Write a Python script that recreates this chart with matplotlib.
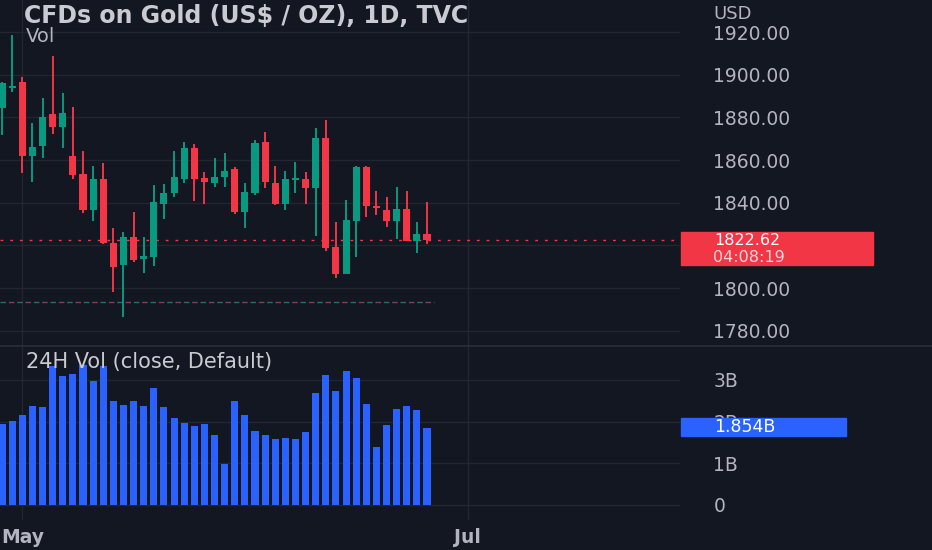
import numpy as np
import pandas as pd
import matplotlib
matplotlib.use("Agg")
import matplotlib.pyplot as plt
from matplotlib.patches import Rectangle

# daily candles (US$ / oz)
opens = [1884.4, 1893.8, 1896.6, 1861.9, 1866.6, 1881.6, 1875.5, 1861.9, 1853.5, 1836.6,
         1851.1, 1821.2, 1810.9, 1824.0, 1813.7, 1814.6, 1839.4, 1844.6, 1851.1, 1865.7,
         1851.6, 1849.3, 1852.1, 1855.8, 1835.7, 1844.6, 1868.5, 1849.3, 1839.4, 1850.7,
         1851.1, 1846.9, 1870.4, 1819.3, 1806.7, 1831.5, 1856.8, 1838.5, 1836.6, 1831.5,
         1837.1, 1822.1, 1825.4]
highs = [1896.5, 1918.6, 1898.9, 1877.4, 1889.1, 1908.8, 1891.4, 1884.9, 1864.3, 1857.2,
         1858.6, 1828.2, 1826.3, 1835.7, 1824.0, 1848.3, 1848.8, 1864.3, 1868.5, 1867.5,
         1854.4, 1861.0, 1863.3, 1856.8, 1849.3, 1869.4, 1873.2, 1857.2, 1854.9, 1859.1,
         1854.4, 1875.0, 1878.8, 1831.0, 1841.3, 1857.0, 1857.2, 1845.5, 1842.7, 1847.4,
         1845.5, 1831.0, 1840.4]
lows = [1871.8, 1891.9, 1854.0, 1849.7, 1861.0, 1872.2, 1865.7, 1851.1, 1835.2, 1831.5,
        1820.8, 1798.2, 1786.5, 1812.3, 1807.1, 1810.4, 1832.4, 1842.7, 1849.3, 1840.8,
        1839.4, 1847.4, 1847.4, 1834.8, 1828.2, 1843.7, 1846.9, 1839.0, 1836.6, 1844.6,
        1839.4, 1824.4, 1817.4, 1804.8, 1806.5, 1814.6, 1833.3, 1834.3, 1828.7, 1823.0,
        1822.0, 1816.5, 1820.7]
closes = [1896.1, 1894.7, 1861.9, 1866.1, 1880.2, 1875.5, 1882.1, 1853.0, 1836.6, 1851.1,
          1821.2, 1809.9, 1824.0, 1813.2, 1815.1, 1840.4, 1844.6, 1852.1, 1865.7, 1851.1,
          1849.7, 1852.1, 1854.9, 1835.7, 1845.1, 1868.0, 1849.7, 1839.4, 1851.1, 1851.6,
          1846.9, 1870.4, 1818.8, 1806.7, 1831.9, 1856.8, 1838.5, 1837.6, 1831.5, 1837.1,
          1822.1, 1825.4, 1822.62]
# 24H volume in billions
volumes = [1.94, 2.01, 2.15, 2.38, 2.34, 3.32, 3.08, 3.13, 3.36, 2.97,
           3.32, 2.49, 2.40, 2.49, 2.37, 2.80, 2.34, 2.08, 1.97, 1.89,
           1.94, 1.67, 0.98, 2.49, 2.16, 1.78, 1.67, 1.58, 1.60, 1.58,
           1.76, 2.69, 3.12, 2.73, 3.20, 3.04, 2.42, 1.40, 1.92, 2.30,
           2.37, 2.28, 1.854]

first_day = "2022-04-28"
last_price = 1822.62
last_volume = 1.854
countdown = "04:08:19"
low_mark = 1793.6
price_ticks = [1780, 1800, 1820, 1840, 1860, 1880, 1900, 1920]
hidden_tick = 1820   # sits under the last price label
vol_ticks = [0, 1, 2, 3]
vol_labels = ["0", "1B", "2B", "3B"]
month_names = ["May", "Jul"]

BG = "#131722"
GRID = "#222631"
TXT = "#B2B5BE"
UP = "#089981"
DOWN = "#F23645"
VOLC = "#2962FF"

plt.rcParams['font.family'] = ['DejaVu Sans']

W, H = 932, 550
fig = plt.figure(figsize=(W / 100, H / 100), dpi=100, facecolor=BG)

def fx(px):
    return px / W

def fy(py):
    return 1 - py / H

ax = fig.add_axes([0, fy(346), fx(680), 1 - fy(346)])
axv = fig.add_axes([0, fy(520), fx(680), fy(346) - fy(520)])

days = pd.bdate_range(first_day, periods=60)
x = np.arange(len(opens))
o = np.array(opens)
c = np.array(closes)
hi = np.array(highs)
lo = np.array(lows)
colors = [UP if cc >= oo else DOWN for oo, cc in zip(o, c)]

for a in (ax, axv):
    a.set_facecolor(BG)
    for s in a.spines.values():
        s.set_visible(False)
    a.set_xlim(-0.2, 67.0)
    a.yaxis.tick_right()
    a.tick_params(axis='y', length=0, pad=24, labelcolor=TXT, labelsize=13.5)
    a.tick_params(axis='x', length=0)

# first trading day of the labelled months
month_pos = [i for i in range(1, len(days))
             if days[i].month != days[i - 1].month and days[i].strftime('%b') in month_names]

# price pane
ax.set_ylim(1772.9, 1935.0)
ax.set_yticks(price_ticks)
ax.set_yticklabels(["" if v == hidden_tick else f"{v:.2f}" for v in price_ticks])
ax.set_xticks(month_pos)
ax.set_xticklabels([])
ax.grid(True, color=GRID, lw=1)

ax.vlines(x, lo, hi, color=colors, lw=1.4, zorder=3)
body = np.maximum(np.abs(c - o), 0.6)
ax.bar(x, body, bottom=np.minimum(o, c), width=0.7, color=colors, zorder=4)

ax.axhline(last_price, color=DOWN, lw=1, ls=(0, (2, 5)), zorder=2)
ax.plot([-0.2, 42.7], [low_mark, low_mark], color="#2f6b66", lw=1, ls=(0, (4, 8)), zorder=2)
ax.plot([-0.2, 42.7], [low_mark, low_mark], color="#7a4451", lw=1, ls=(6, (4, 8)), zorder=2)

# volume pane
axv.set_ylim(-0.36, 3.81)
axv.set_yticks(vol_ticks)
axv.set_yticklabels(vol_labels)
axv.set_xticks(month_pos)
axv.set_xticklabels(month_names, fontweight='bold', color=TXT, fontsize=13.5)
axv.tick_params(axis='x', pad=6)
axv.grid(True, color=GRID, lw=1)
axv.bar(x, volumes, width=0.7, color=VOLC, zorder=3)

# pane separator
fig.add_artist(plt.Line2D([0, 1], [fy(346), fy(346)], color="#2A2E39", lw=1.2))

# titles
fig.text(fx(24), fy(16), "CFDs on Gold (US$ / OZ), 1D, TVC", color="#C9CBD1",
         fontsize=17, fontweight='bold', va='center', ha='left')
fig.text(fx(26), fy(37), "Vol", color=TXT, fontsize=14, va='center', ha='left')
fig.text(fx(713), fy(14), "USD", color=TXT, fontsize=13, va='center', ha='left')
fig.text(fx(26), fy(362), "24H Vol (close, Default)", color="#C9CBD1", fontsize=15,
         va='center', ha='left', zorder=6)

# last price / last volume labels
fig.add_artist(Rectangle((fx(681), fy(265)), fx(873) - fx(681), fy(232) - fy(265),
                         transform=fig.transFigure, color=DOWN, zorder=5))
fig.text(fx(714), fy(240.5), f"{last_price:.2f}", color="white", fontsize=11.5,
         va='center', ha='left', zorder=6)
fig.text(fx(713), fy(257), countdown, color="#F4D7DA", fontsize=11.5,
         va='center', ha='left', zorder=6)
fig.add_artist(Rectangle((fx(681), fy(436)), fx(846) - fx(681), fy(418) - fy(436),
                         transform=fig.transFigure, color=VOLC, zorder=5))
fig.text(fx(714), fy(427), f"{last_volume:.3f}B", color="white", fontsize=12.5,
         va='center', ha='left', zorder=6)

fig.savefig("out.png", dpi=100, facecolor=BG)
